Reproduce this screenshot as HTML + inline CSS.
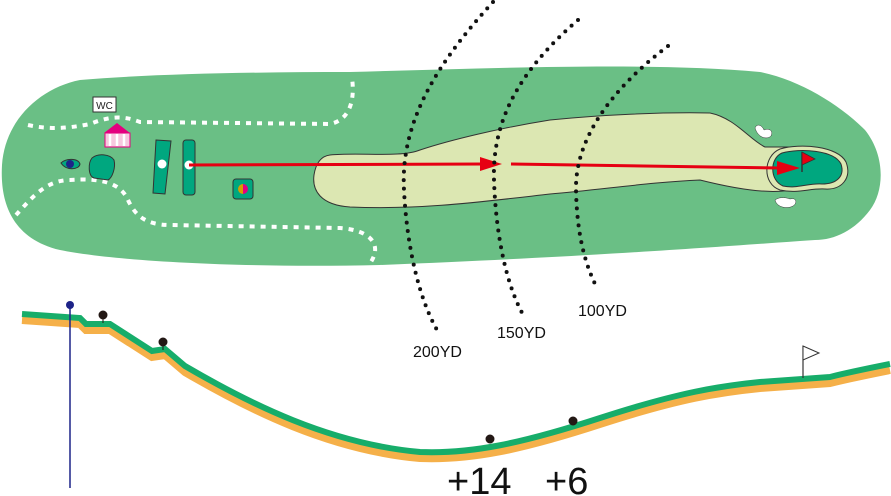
<!DOCTYPE html>
<html><head><style>html,body{margin:0;padding:0;background:#fff}svg{display:block}</style></head>
<body>
<svg width="891" height="496" viewBox="0 0 891 496" xmlns="http://www.w3.org/2000/svg" font-family="Liberation Sans, sans-serif">
<path d="M80,80 C150,74 250,72 350,72 C500,68 650,62 760,72 C800,80 840,105 865,130 C885,155 885,190 870,210 C855,230 835,240 815,240 C700,248 600,256 380,265 C250,268 120,262 60,250 C10,238 0,200 2,165 C5,120 40,88 80,80 Z" fill="#6abf85"/>
<g fill="none" stroke="#fff" stroke-width="4" stroke-dasharray="5,6">
<path d="M28,125 C50,130 70,128 90,124 C105,118 120,114 140,122 L330,124 C350,120 355,100 352,78"/>
<path d="M16,215 C30,200 45,180 70,180 C100,178 120,182 128,200 C135,215 145,225 170,225 L340,228 C370,230 385,245 368,266"/>
</g>
<path d="M330,155 C360,152 400,158 420,150 C450,140 500,128 550,120 C600,115 660,112 710,113 C735,118 750,140 765,147 L790,147 L790,190 C770,194 740,190 700,180 C650,182 600,190 550,194 C480,202 420,210 350,207 C320,205 312,190 314,175 C316,162 322,156 330,155 Z" fill="#dce7b2" stroke="#333" stroke-width="1"/>
<path d="M780,149 C800,143 838,146 846,162 C852,178 842,190 825,189 C810,188 798,194 780,190 C762,184 763,156 780,149 Z" fill="#dce7b2" stroke="#333" stroke-width="1"/>
<path d="M782,153 C800,148 834,150 841,164 C845,176 837,184 822,184 C808,183 797,189 783,186 C769,180 770,158 782,153 Z" fill="#00a77f" stroke="#333" stroke-width="1"/>
<path d="M755,128 C757,123 762,125 764,130 C768,128 774,130 771,136 C767,140 758,138 755,128 Z" fill="#fff" stroke="#333" stroke-width="0.5"/>
<path d="M775,200 C780,196 788,198 790,199 C796,197 798,203 793,206 C788,209 777,208 775,200 Z" fill="#fff" stroke="#333" stroke-width="0.5"/>
<path d="M61,163 C66,158 78,158 80,164 C79,170 66,171 61,163 Z" fill="#00a77f" stroke="#333"/>
<circle cx="70" cy="164" r="4" fill="#1d2388"/>
<path d="M92,158 C98,153 110,154 114,160 C116,168 112,178 108,180 L94,178 C88,176 88,163 92,158 Z" fill="#00a77f" stroke="#333"/>
<path d="M156,140 L171,141 L165,194 L153,193 Z" fill="#00a77f" stroke="#333"/>
<circle cx="162" cy="164" r="4.5" fill="#fff"/>
<rect x="183" y="140" width="12" height="55" rx="3" fill="#00a77f" stroke="#333"/>
<circle cx="189" cy="165" r="4.5" fill="#fff"/>
<rect x="233" y="179" width="20" height="20" rx="3" fill="#00a77f" stroke="#333"/>
<path d="M243,184 A5,5 0 0 0 243,194 Z" fill="#d4a000"/><path d="M243,184 A5,5 0 0 1 243,194 Z" fill="#e4007f"/>
<rect x="93" y="97" width="23" height="15" fill="#fff" stroke="#333"/>
<text x="104.5" y="109" font-size="10" text-anchor="middle" fill="#222">WC</text>
<path d="M104,133 L117,123 L130,133 Z" fill="#e4007f"/>
<rect x="105" y="133" width="25" height="14" fill="#f7c9df" stroke="#e4007f"/>
<g stroke="#fff" stroke-width="2.5"><line x1="110" y1="134" x2="110" y2="146"/><line x1="117" y1="134" x2="117" y2="146"/><line x1="124" y1="134" x2="124" y2="146"/></g>
<g stroke="#e60012" stroke-width="3"><line x1="189" y1="165" x2="485" y2="164"/><line x1="511" y1="164" x2="780" y2="168"/></g>
<path d="M480,157 L502,164 L480,171 Z" fill="#e60012"/>
<path d="M777,161 L800,168 L777,175 Z" fill="#e60012"/>
<line x1="802" y1="152" x2="802" y2="172" stroke="#333" stroke-width="1.5"/>
<path d="M802,152 L815,159 L802,165 Z" fill="#e60012" stroke="#333" stroke-width="0.8"/>
<g fill="none" stroke="#111" stroke-width="4" stroke-linecap="round" stroke-dasharray="0,8.5">
<path d="M493,2 C440,60 400,120 404,190 C407,250 420,300 437,330"/>
<path d="M578,20 C520,70 492,120 494,180 C496,240 508,290 525,318"/>
<path d="M668,46 C610,90 575,140 576,190 C577,235 585,265 598,290"/>
</g>
<g font-size="16" fill="#111">
<text x="413" y="357">200YD</text><text x="497" y="338">150YD</text><text x="578" y="316">100YD</text>
</g>
<path d="M22,320 L80,324 L86,330 L110,330 L152,357 L165,355 L185,372 C250,410 330,450 420,458 C470,460 520,450 600,424 C680,398 720,392 760,388 L830,383 C850,378 865,375 890,370" fill="none" stroke="#f5b049" stroke-width="8"/>
<path d="M22,314 L80,318 L86,324 L110,324 L152,351 L165,349 L185,366 C250,404 330,444 420,452 C470,454 520,444 600,418 C680,392 720,386 760,382 L830,377 C850,372 865,369 890,364" fill="none" stroke="#17ad6a" stroke-width="6"/>
<line x1="70" y1="304" x2="70" y2="488" stroke="#1d2388" stroke-width="1.5"/>
<circle cx="70" cy="305" r="4" fill="#1d2388"/>
<g fill="#231815" stroke="#231815"><line x1="103" y1="316" x2="103" y2="323"/><circle cx="103" cy="315" r="4"/><line x1="163" y1="342" x2="163" y2="350"/><circle cx="163" cy="342" r="4"/><circle cx="490" cy="439" r="4"/><circle cx="573" cy="421" r="4"/></g>
<line x1="803" y1="346" x2="803" y2="378" stroke="#333" stroke-width="1.2"/>
<path d="M803,346 L819,353 L803,360 Z" fill="#fff" stroke="#333"/>
<text x="447" y="494" font-size="38" fill="#111">+14</text>
<text x="545" y="494" font-size="38" fill="#111">+6</text>
</svg>
</body></html>
